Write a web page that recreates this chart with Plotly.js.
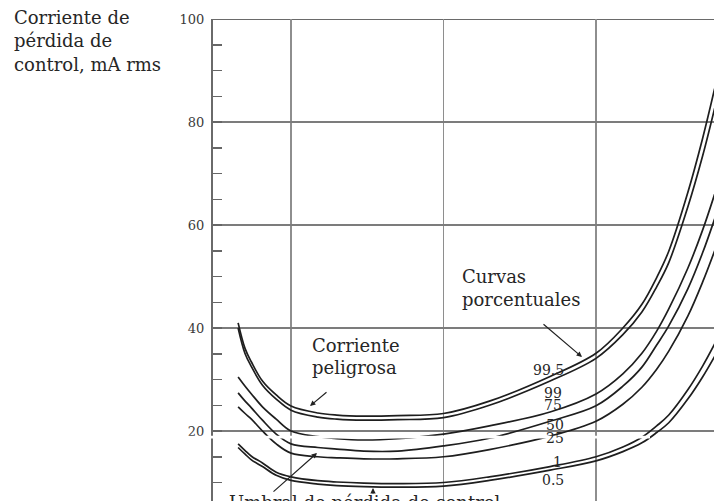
<!DOCTYPE html>
<html>
<head>
<meta charset="utf-8">
<script src="https://cdn.plot.ly/plotly-3.0.1.min.js"></script>
<style>html,body{margin:0;padding:0;background:#fff;}#chart{width:714px;height:501px;}</style>
</head>
<body>
<div id="chart"></div>
<script>
// Frequency (Hz) sampled along the curves
const freq = [4.5, 5, 5.5, 6.5, 8, 10, 15, 20, 30, 50, 100, 200, 500, 1000, 1500, 2000, 2500, 3000, 4000, 5000, 6000];
// Let-go current percentile curves (mA rms)
const p995 = [41.0, 36.0, 33.4, 29.7, 27.0, 24.85, 23.5, 23.1, 22.9, 23.0, 23.4, 25.8, 30.6, 35.1, 40.0, 44.6, 49.8, 54.9, 66.3, 76.8, 86.5];
const p99  = [40.0, 35.0, 32.5, 28.9, 26.2, 24.05, 22.7, 22.3, 22.1, 22.2, 22.6, 25.0, 29.7, 34.1, 38.7, 43.1, 48.0, 52.7, 63.5, 73.4, 82.7];
const p75  = [30.5, 28.7, 27.2, 24.7, 22.3, 20.0, 18.9, 18.5, 18.25, 18.5, 19.4, 21.0, 23.7, 27.2, 31.1, 35.1, 39.4, 43.7, 51.6, 59.0, 66.0];
const p50  = [27.4, 25.8, 24.5, 22.1, 19.4, 17.5, 16.8, 16.5, 16.1, 16.1, 17.1, 18.6, 21.9, 24.9, 28.7, 32.4, 36.7, 40.4, 47.6, 54.6, 61.2];
const p25  = [24.7, 23.4, 22.3, 20.0, 17.5, 15.7, 15.0, 14.8, 14.6, 14.6, 15.0, 16.4, 19.0, 21.9, 25.2, 28.5, 32.0, 35.5, 42.3, 48.9, 55.0];
const p1   = [17.5, 16.2, 15.1, 13.8, 12.0, 11.1, 10.35, 10.1, 9.9, 9.8, 10.0, 11.1, 13.1, 15.0, 16.9, 18.8, 21.0, 23.1, 28.0, 32.6, 36.9];
const p05  = [16.8, 15.5, 14.4, 13.1, 11.4, 10.4, 9.7, 9.4, 9.2, 9.1, 9.3, 10.4, 12.4, 14.2, 16.0, 17.7, 19.7, 21.6, 26.2, 30.5, 34.5];
const pctLabels = ['99.5', '99', '75', '50', '25', '1', '0.5'];
const yTicks = [20, 40, 60, 80, 100];
const xGrid = [10, 100, 1000];

const series = [p995, p99, p75, p50, p25, p1, p05];

// pixel helpers (layout only)
const L = 213, W = 501, H = 482, T = 19;
const X = px => (px - L) / W;
const Y = py => (T + H - py) / H;

const traces = series.map((s, i) => ({
  x: freq, y: s, type: 'scatter', mode: 'lines', name: pctLabels[i],
  line: {color: '#1e1e1e', width: 1.7, shape: 'spline', smoothing: 1},
  hoverinfo: 'skip'
}));

const serif = 'DejaVu Serif';
const textBlocks = [
  ['Corriente de', 13, 24], ['pérdida de', 13, 47], ['control, mA rms', 13, 71],
  ['Corriente', 311, 352], ['peligrosa', 311, 374],
  ['Curvas', 461, 283], ['porcentuales', 461, 306],
  ['Umbral de pérdida de control', 228, 509]
];
const annotations = textBlocks.map(([t, px, base]) => ({
  text: t, xref: 'paper', yref: 'paper', x: X(px - 1), y: Y(base + 6),
  xanchor: 'left', yanchor: 'bottom', showarrow: false,
  font: {family: serif, size: 18, color: '#262626'}
}));
const pctPos = [[565, 375], [563, 398], [563, 410], [565, 430], [565, 443], [563, 467], [565, 485]];
pctLabels.forEach((t, i) => {
  annotations.push({
    text: t, xref: 'paper', yref: 'paper', x: X(pctPos[i][0] + 1), y: Y(pctPos[i][1] + 5),
    xanchor: 'right', yanchor: 'bottom', showarrow: false,
    font: {family: serif, size: 14, color: '#262626'}
  });
});
const arrows = [
  [[310, 406], [328, 391]],
  [[582, 357], [542, 323]],
  [[317, 453], [272, 493]],
  [[373, 488], [373, 495]]
];
arrows.forEach(([h, t]) => {
  annotations.push({
    text: '', xref: 'paper', yref: 'paper', x: X(h[0]), y: Y(h[1]),
    ax: t[0] - h[0], ay: t[1] - h[1], showarrow: true,
    arrowhead: 2, arrowsize: 0.9, arrowwidth: 1.2, arrowcolor: '#222', standoff: 0
  });
});

const layout = {
  width: 714, height: 501,
  margin: {l: L, r: 0, t: T, b: 0, pad: 0},
  paper_bgcolor: '#fff', plot_bgcolor: '#fff',
  showlegend: false,
  xaxis: {
    type: 'log', range: [0.4885, 3.7738], tickmode: 'array', tickvals: xGrid,
    showticklabels: false, ticks: '', showgrid: true, gridcolor: '#8e8e8e', gridwidth: 1.6,
    zeroline: false, showline: false, automargin: false, fixedrange: true
  },
  yaxis: {
    range: [6.41, 100], tickmode: 'array', tickvals: yTicks, ticktext: yTicks.map(String),
    ticks: 'inside', ticklen: 9, tickwidth: 1.5, tickcolor: '#666', ticklabelstandoff: 4,
    showline: true, linecolor: '#6a6a6a', linewidth: 2,
    showgrid: true, gridcolor: '#7c7c7c', gridwidth: 1.6, zeroline: false,
    tickfont: {family: 'DejaVu Serif', size: 13, color: '#3a3a3a'},
    minor: {tickmode: 'linear', tick0: 0, dtick: 5, ticks: 'inside', ticklen: 9, tickwidth: 1.5, tickcolor: '#666', showgrid: false},
    automargin: false, fixedrange: true
  },
  shapes: [
    {type: 'line', xref: 'paper', yref: 'y', x0: 0, x1: 1, y0: 100, y1: 100, line: {color: '#6a6a6a', width: 2}, layer: 'below'},
    {type: 'rect', xref: 'paper', yref: 'paper', x0: X(592), x1: X(600), y0: Y(322), y1: Y(293), fillcolor: '#fff', line: {width: 0}, layer: 'below'},
    {type: 'rect', xref: 'paper', yref: 'paper', x0: X(185), x1: X(650), y0: Y(438.6), y1: Y(435.8), fillcolor: '#fff', line: {width: 0}, layer: 'above'}
  ],
  annotations: annotations
};

Plotly.newPlot('chart', traces, layout, {displayModeBar: false, staticPlot: true});
</script>
</body>
</html>
